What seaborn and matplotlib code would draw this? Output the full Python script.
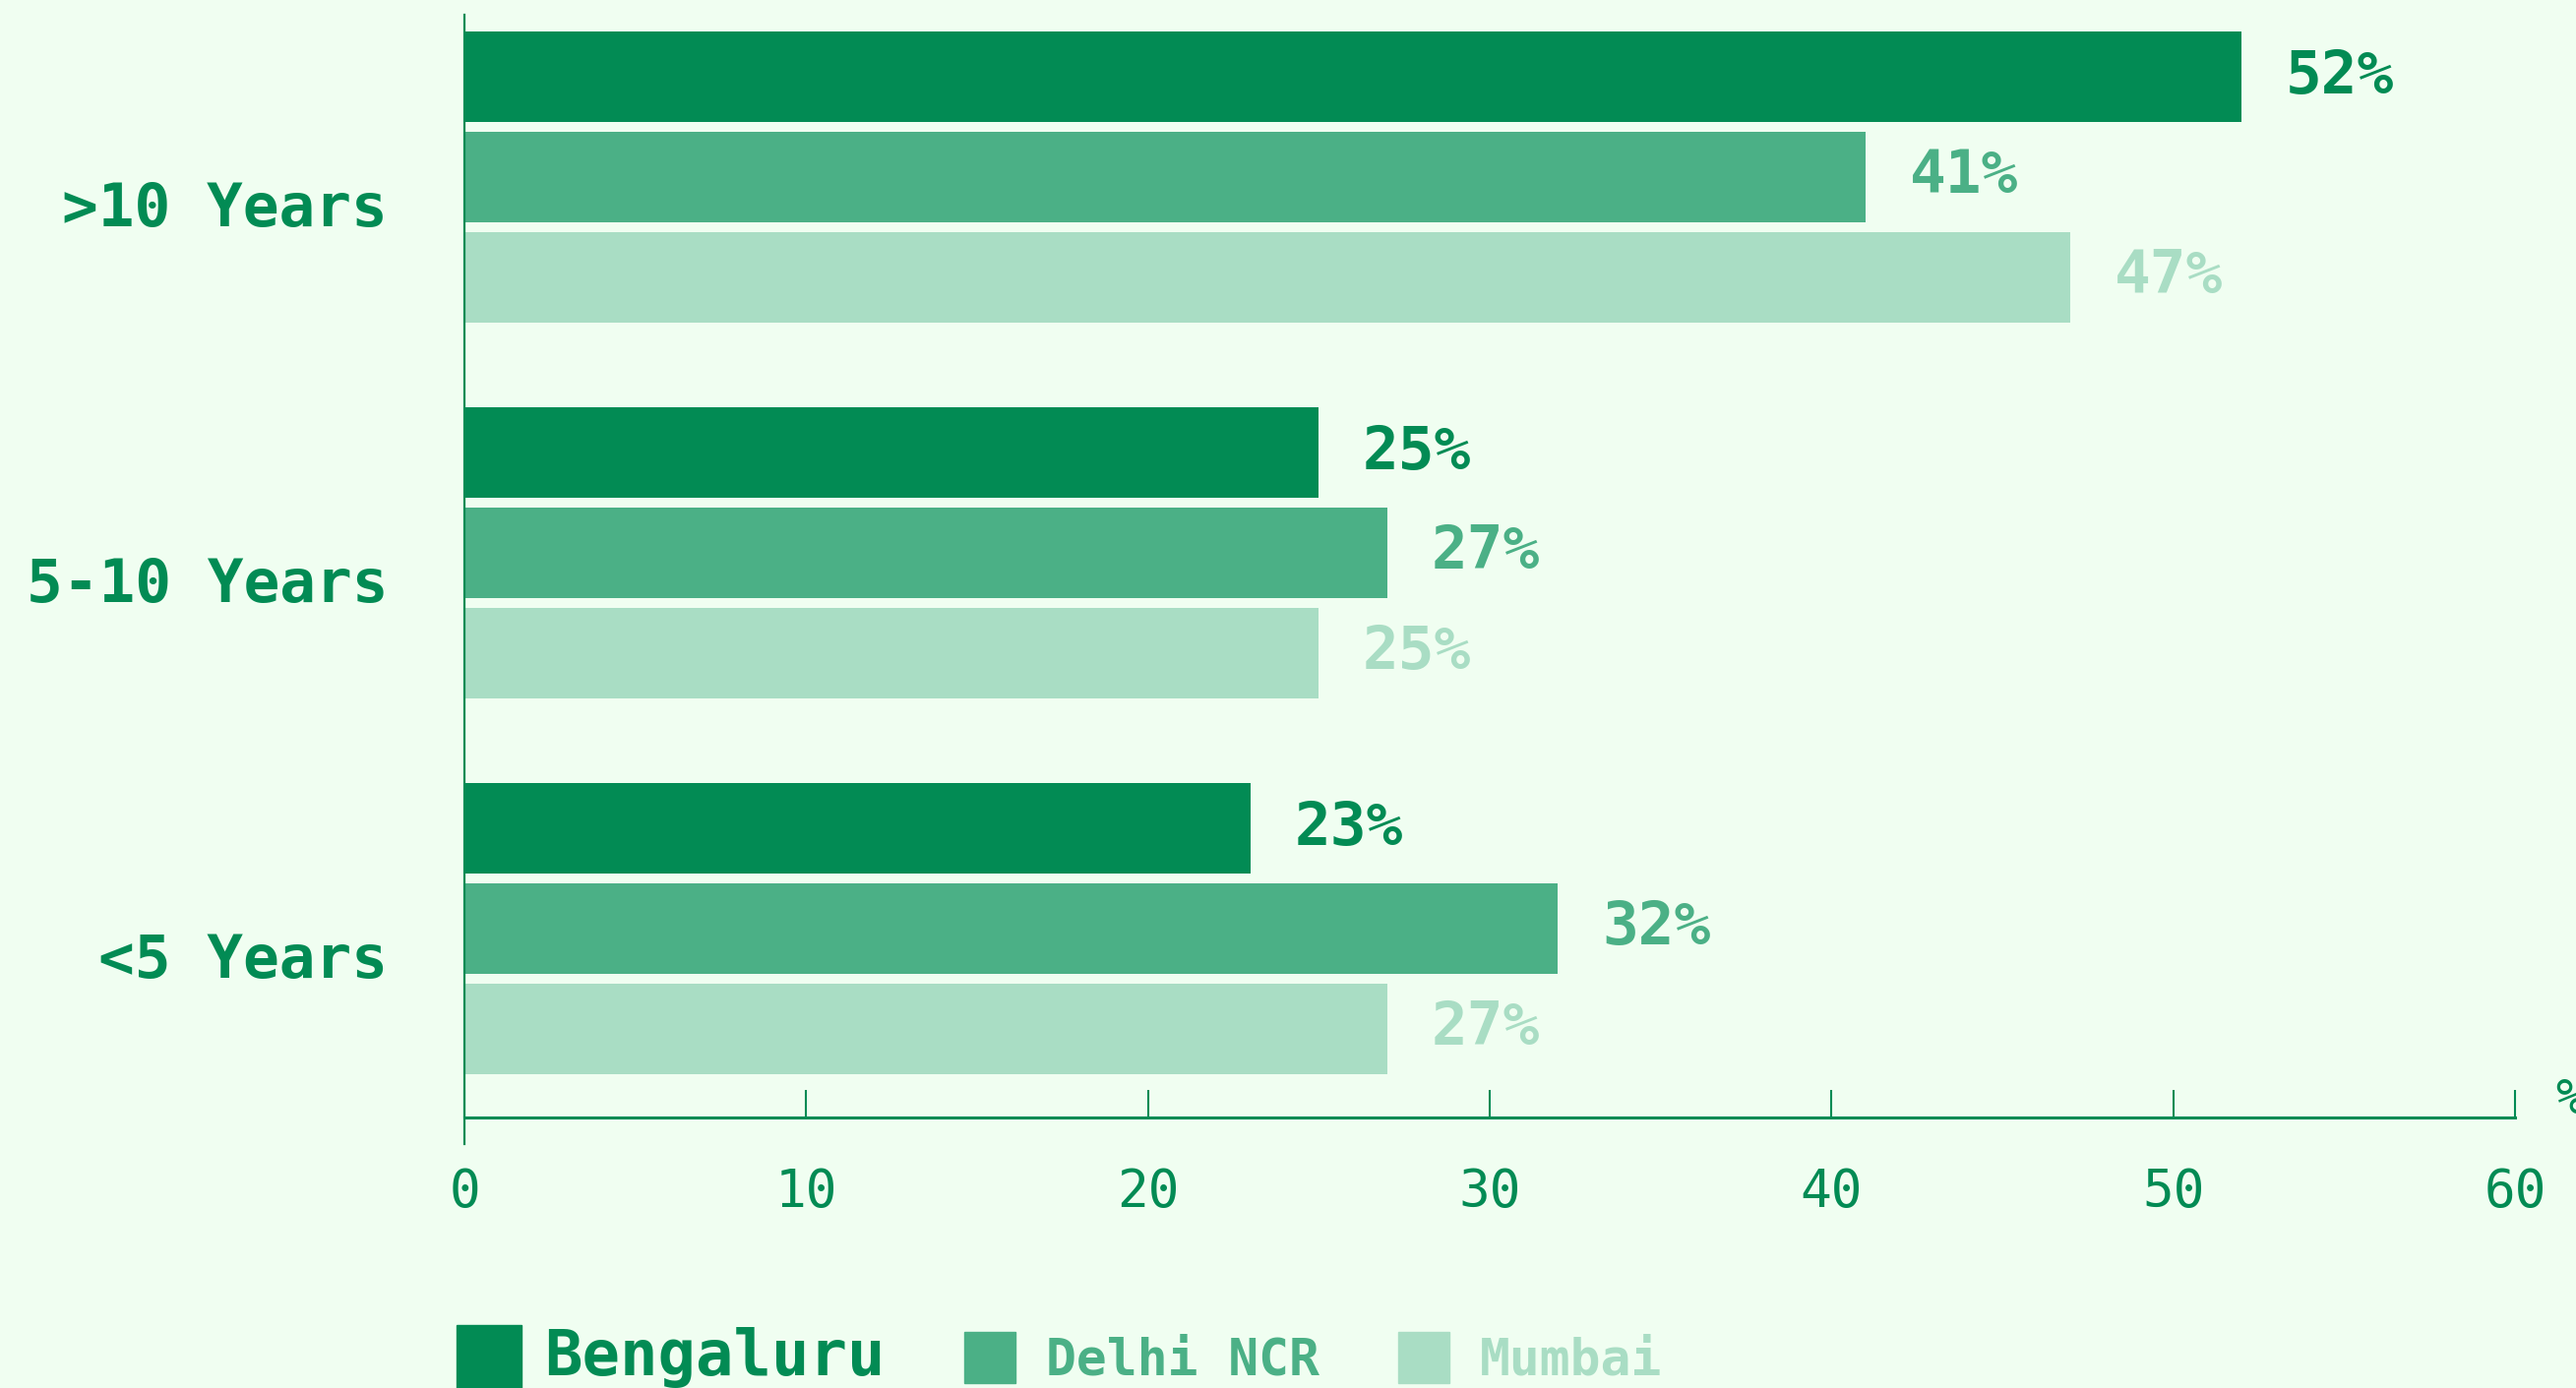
import pandas as pd
import numpy as np
import matplotlib.pyplot as plt
import seaborn as sns
from matplotlib.lines import Line2D

# data
experience = ['>10 Years', '5-10 Years', '<5 Years']
cities = ['Bengaluru', 'Delhi NCR', 'Mumbai']
bengaluru = [52, 25, 23]
delhi_ncr = [41, 27, 32]
mumbai = [47, 25, 27]
x_ticks = [0, 10, 20, 30, 40, 50, 60]

colors = ['#028B54', '#4BB086', '#A9DDC4']
bg = '#F0FEF1'
dark = '#028B54'

df = pd.DataFrame({
    'Experience': experience * 3,
    'City': [c for c in cities for _ in experience],
    'Share': bengaluru + delhi_ncr + mumbai,
})

sns.set_style('white')
plt.rcParams['font.family'] = ['DejaVu Sans Mono', 'DejaVu Sans']

fig = plt.figure(figsize=(26.18, 14.11), dpi=100, facecolor=bg)
ax = fig.add_axes([0.1803, 0.1949, 0.796, 0.7945])
ax.set_facecolor(bg)

sns.barplot(data=df, y='Experience', x='Share', hue='City', orient='h',
            order=experience, hue_order=cities, palette=colors, saturation=1,
            width=0.8, gap=0.1, linewidth=0, legend=False, ax=ax)

# value labels
for cont, col in zip(ax.containers, colors):
    ax.bar_label(cont, labels=[f'{int(v)}%' for v in cont.datavalues],
                 padding=32, color=col, fontsize=44, fontweight='bold')

ax.set_xlim(0, 60)
ax.set_ylim(2.503, -0.432)
ax.set_xticks(x_ticks)
ax.set_xticklabels([str(t) for t in x_ticks], fontsize=38, color=dark)
ax.set_yticks([i + 0.071 for i in range(3)])
ax.set_yticklabels(experience, fontsize=44, fontweight='bold', color=dark)
ax.set_xlabel('')
ax.set_ylabel('')

ax.tick_params(axis='x', bottom=True, direction='in', length=20, width=1.5,
               color=dark, pad=36)
ax.tick_params(axis='y', left=True, direction='in', length=37, width=1.5,
               color=dark, pad=56)

for s in ['top', 'right']:
    ax.spines[s].set_visible(False)
ax.spines['left'].set_color(dark)
ax.spines['left'].set_linewidth(1.6)
ax.spines['left'].set_bounds(2.503 + 0.071, -0.432)
ax.spines['left'].set_clip_on(False)
ax.spines['bottom'].set_color(dark)
ax.spines['bottom'].set_linewidth(2.2)

ax.text(61.18, 0.004, '%', transform=ax.get_xaxis_transform(), fontsize=36,
        color=dark, va='baseline', ha='left', clip_on=False)

# legend
handles = [
    Line2D([], [], marker='s', linestyle='none', markersize=48, color=colors[0]),
    Line2D([], [], marker='s', linestyle='none', markersize=37, color=colors[1]),
    Line2D([], [], marker='s', linestyle='none', markersize=37, color=colors[2]),
]
leg = fig.legend(handles, cities, loc='upper left', bbox_to_anchor=(0.180, 0.044),
                 ncol=3, frameon=False, handlelength=1.0, handletextpad=0.6,
                 columnspacing=1.57, borderaxespad=0, borderpad=0,
                 prop={'weight': 'bold', 'size': 37})
for txt, col, sz in zip(leg.get_texts(), colors, [46, 37, 37]):
    txt.set_color(col)
    txt.set_fontsize(sz)

fig.savefig('out.png', dpi=100, facecolor=bg)
